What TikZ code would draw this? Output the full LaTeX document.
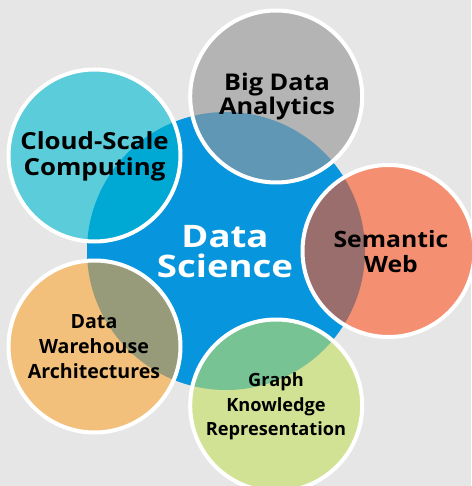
\documentclass[tikz,border=0pt]{standalone}
\usepackage{fontspec}
\setmainfont{Open Sans}
\newfontfamily\wideA{Open Sans}[FakeStretch=1.18]
\newfontfamily\wideB{Open Sans}[FakeStretch=1.1]
\definecolor{bgc}{HTML}{E6E6E6}
\definecolor{dsblue}{HTML}{0796DD}
\definecolor{bdgray}{HTML}{B4B4B4}
\definecolor{bdgrayov}{HTML}{5F97B4}
\definecolor{cscyan}{HTML}{5BCCDA}
\definecolor{cscyanov}{HTML}{00A9D4}
\definecolor{swsalmon}{HTML}{F48F72}
\definecolor{swsalmonov}{HTML}{9B6E6E}
\definecolor{dworange}{HTML}{F3C07C}
\definecolor{dworangeov}{HTML}{979B79}
\definecolor{gkgreen}{HTML}{D2E294}
\definecolor{gkgreenov}{HTML}{77C393}
\tikzset{
  outer/.style={circle, minimum size=172pt, inner sep=0pt, fill=#1},
  ring/.style={draw=white, line width=4pt},
  lbl/.style={align=center, text=black, inner sep=0pt},
}
\begin{document}
\begin{tikzpicture}[x=1pt, y=-1pt]
\fill[bgc] (0,0) rectangle (471,486);
\useasboundingbox (0,0) rectangle (471,486);
% central circle
\node[circle, minimum size=278pt, inner sep=0pt, fill=dsblue] (ds) at (226,251) {};
% outer circles
\node[outer=bdgray] (bd) at (276.2,96.5) {};
\node[outer=cscyan] (cs) at (94.5,155.5) {};
\node[outer=swsalmon] (sw) at (388.5,251) {};
\node[outer=dworange] (dw) at (94.5,346.5) {};
\node[outer=gkgreen] (gk) at (276.2,405.5) {};
% overlaps with the central circle
\begin{scope}
  \clip (ds.center) circle (139);
  \fill[bdgrayov] (bd.center) circle (86);
  \fill[cscyanov] (cs.center) circle (86);
  \fill[swsalmonov] (sw.center) circle (86);
  \fill[dworangeov] (dw.center) circle (86);
  \fill[gkgreenov] (gk.center) circle (86);
\end{scope}
% white rings
\foreach \n in {bd,cs,sw,dw,gk} {
  \draw[ring] (\n.center) circle (86);
}
% labels
\node[lbl, text=white, font=\wideA\fontsize{31}{30}\selectfont\bfseries] (dst) at (225,252) {Data\\Science};
\node[lbl, font=\wideB\fontsize{23}{24}\selectfont\bfseries] (bdt) at (277,97) {Big Data\\Analytics};
\node[lbl, font=\wideB\fontsize{23.5}{26}\selectfont\bfseries] (cst) at (94.5,156) {Cloud-Scale\\Computing};
\node[lbl, font=\wideB\fontsize{22.5}{25}\selectfont\bfseries] (swt) at (391,251.75) {Semantic\\Web};
\node[lbl, font=\fontsize{19.6}{25}\selectfont\bfseries] (dwt) at (94,346.5) {Data\\Warehouse\\Architectures};
\node[lbl, font=\fontsize{18.2}{24.5}\selectfont\bfseries] (gkt) at (276,406.7) {Graph\\Knowledge\\Representation};
\end{tikzpicture}
\end{document}
